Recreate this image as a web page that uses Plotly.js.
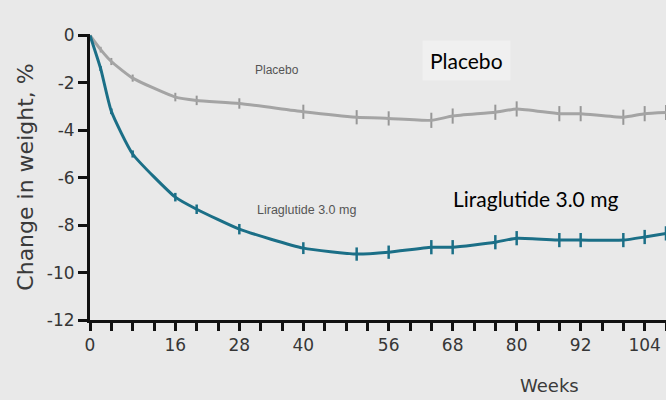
<!DOCTYPE html>
<html>
<head>
<meta charset="utf-8">
<script src="https://cdn.plot.ly/plotly-3.0.1.min.js"></script>
<style>html,body{margin:0;padding:0;background:#e9e9e9;}#chart{width:666px;height:400px;}</style>
</head>
<body>
<div id="chart"></div>
<script>
const placeboWeeks = [0, 2, 4, 8, 16, 20, 28, 40, 50, 56, 64, 68, 76, 80, 88, 92, 100, 104, 108];
const placeboChange = [0, -0.6, -1.1, -1.8, -2.6, -2.74, -2.87, -3.22, -3.45, -3.5, -3.58, -3.4, -3.24, -3.1, -3.3, -3.3, -3.45, -3.3, -3.25];
const placeboErr = [0, 0.12, 0.15, 0.15, 0.18, 0.2, 0.22, 0.3, 0.3, 0.3, 0.32, 0.32, 0.32, 0.32, 0.32, 0.32, 0.32, 0.32, 0.32];

const liraWeeks = [0, 2, 4, 8, 16, 20, 28, 40, 50, 56, 64, 68, 76, 80, 88, 92, 100, 104, 108];
const liraChange = [0, -1.4, -3.2, -5.0, -6.82, -7.33, -8.17, -8.97, -9.22, -9.14, -8.93, -8.93, -8.72, -8.55, -8.63, -8.63, -8.63, -8.5, -8.35];
const liraErr = [0, 0.1, 0.12, 0.15, 0.18, 0.2, 0.22, 0.25, 0.28, 0.28, 0.3, 0.3, 0.3, 0.3, 0.3, 0.3, 0.3, 0.3, 0.3];

const xTickVals = [0, 4, 8, 12, 16, 20, 24, 28, 32, 36, 40, 44, 48, 52, 56, 60, 64, 68, 72, 76, 80, 84, 88, 92, 96, 100, 104, 108];
const xTickText = ['0', '', '', '', '16', '', '', '28', '', '', '40', '', '', '', '56', '', '', '68', '', '', '80', '', '', '92', '', '', '104', ''];
const yTickVals = [0, -2, -4, -6, -8, -10, -12];

const gray = '#a4a4a4';
const teal = '#1b6f87';

const traces = [
  {
    x: placeboWeeks, y: placeboChange, type: 'scatter', mode: 'lines', name: 'Placebo',
    line: {color: gray, width: 3, shape: 'spline', smoothing: 0.5},
    error_y: {type: 'data', array: placeboErr, visible: true, thickness: 2, width: 0, color: '#979797'},
    showlegend: false, cliponaxis: true
  },
  {
    x: liraWeeks, y: liraChange, type: 'scatter', mode: 'lines', name: 'Liraglutide 3.0 mg',
    line: {color: teal, width: 3, shape: 'spline', smoothing: 0.5},
    error_y: {type: 'data', array: liraErr, visible: true, thickness: 2.5, width: 0, color: teal},
    showlegend: false, cliponaxis: true
  }
];

const axisFont = 'DejaVu Sans, Verdana, sans-serif';
const tickFont = {family: axisFont, size: 17, color: '#363636'};

const layout = {
  width: 666, height: 400,
  margin: {l: 90, r: 0, t: 34, b: 80},
  paper_bgcolor: '#e9e9e9',
  plot_bgcolor: '#e9e9e9',
  xaxis: {
    range: [0, 108], showgrid: false, zeroline: false,
    showline: true, linecolor: '#111', linewidth: 3,
    ticks: 'outside', ticklen: 8, tickwidth: 3, tickcolor: '#111',
    tickmode: 'array', tickvals: xTickVals, ticktext: xTickText,
    tickfont: tickFont
  },
  yaxis: {
    range: [-12, 0.06], showgrid: false, zeroline: false,
    showline: true, linecolor: '#111', linewidth: 3,
    ticks: 'outside', ticklen: 9, tickwidth: 3, tickcolor: '#111',
    tickmode: 'array', tickvals: yTickVals, ticktext: yTickVals.map(String),
    tickfont: tickFont,
    title: {text: 'Change in weight, %', font: {family: axisFont, size: 22, color: '#3a3a3a'}, standoff: 8}
  },
  annotations: [
    {text: 'Weeks', x: (549 - 90) / 576, y: -(385 - 320) / 286, xref: 'paper', yref: 'paper',
     xanchor: 'center', yanchor: 'middle', showarrow: false,
     font: {family: axisFont, size: 18, color: '#3a3a3a'}},
    {text: 'Placebo', x: 35.1, y: -1.45, xref: 'x', yref: 'y', xanchor: 'center', showarrow: false,
     font: {family: 'Liberation Sans, Arial, sans-serif', size: 12, color: '#555'}},
    {text: 'Liraglutide 3.0 mg', x: 40.6, y: -7.35, xref: 'x', yref: 'y', xanchor: 'center', showarrow: false,
     font: {family: 'Liberation Sans, Arial, sans-serif', size: 12.5, color: '#555'}},
    {text: 'Placebo', x: 70.5, y: -1.05, xref: 'x', yref: 'y', xanchor: 'center', showarrow: false,
     bgcolor: '#f0f0f0', borderpad: 7,
     font: {family: 'Lato, sans-serif', size: 21, color: '#000'}},
    {text: 'Liraglutide 3.0 mg', x: 83.6, y: -6.86, xref: 'x', yref: 'y', xanchor: 'center', showarrow: false,
     font: {family: 'Lato, sans-serif', size: 21, color: '#000'}}
  ]
};

Plotly.newPlot('chart', traces, layout, {displayModeBar: false, staticPlot: true});
</script>
</body>
</html>
